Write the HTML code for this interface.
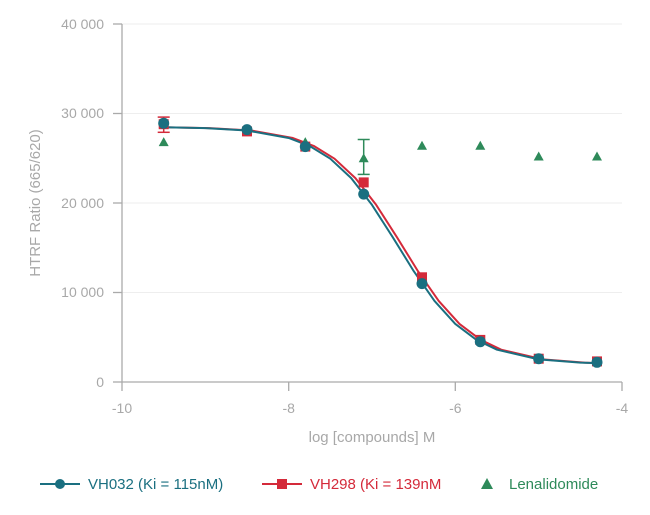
<!DOCTYPE html>
<html><head><meta charset="utf-8"><style>
body{margin:0;background:#fff;}
svg text{font-family:"Liberation Sans",sans-serif;}
</style></head><body>
<svg width="650" height="510" viewBox="0 0 650 510" xmlns="http://www.w3.org/2000/svg">
<g stroke="#eeeeee" stroke-width="1">
<line x1="122" y1="24" x2="622" y2="24"/><line x1="122" y1="113.5" x2="622" y2="113.5"/>
<line x1="122" y1="203" x2="622" y2="203"/><line x1="122" y1="292.5" x2="622" y2="292.5"/>
</g>
<g stroke="#aaaaaa" stroke-width="1.3" fill="none">
<line x1="122" y1="24" x2="122" y2="382"/><line x1="122" y1="382" x2="622" y2="382"/>
<line x1="113" y1="24" x2="122" y2="24"/><line x1="113" y1="113.5" x2="122" y2="113.5"/>
<line x1="113" y1="203" x2="122" y2="203"/><line x1="113" y1="292.5" x2="122" y2="292.5"/>
<line x1="113" y1="382" x2="122" y2="382"/>
<line x1="122" y1="382" x2="122" y2="391"/><line x1="288.7" y1="382" x2="288.7" y2="391"/>
<line x1="455.3" y1="382" x2="455.3" y2="391"/><line x1="622" y1="382" x2="622" y2="391"/>
</g>
<g fill="#a8a8a8" font-size="14" text-anchor="end">
<text x="104" y="29">40 000</text><text x="104" y="118">30 000</text>
<text x="104" y="208">20 000</text><text x="104" y="297">10 000</text><text x="104" y="387">0</text>
</g>
<g fill="#a8a8a8" font-size="14" text-anchor="middle">
<text x="122" y="413">-10</text><text x="288.7" y="413">-8</text>
<text x="455.3" y="413">-6</text><text x="622" y="413">-4</text>
<text x="372" y="442" font-size="15">log [compounds] M</text>
<text transform="translate(40,203) rotate(-90)" font-size="15">HTRF Ratio (665/620)</text>
</g>
<g stroke-width="1.5">
<g stroke="#d42a3a"><line x1="163.7" y1="117.1" x2="163.7" y2="132.3"/><line x1="157.7" y1="117.1" x2="169.7" y2="117.1"/><line x1="157.7" y1="132.3" x2="169.7" y2="132.3"/></g>
<g stroke="#2e8a5a"><line x1="363.7" y1="139.5" x2="363.7" y2="174.4"/><line x1="357.7" y1="139.5" x2="369.7" y2="139.5"/><line x1="357.7" y1="174.4" x2="369.7" y2="174.4"/></g>
</g>
<polyline transform="translate(4.2,0)" fill="none" stroke="#d42a3a" stroke-width="2" stroke-linejoin="round" points="159.5,127.3 205.3,128.1 247.0,130.5 288.7,138.0 309.5,145.9 330.3,158.7 351.2,178.1 372.0,204.9 392.8,237.3 413.7,271.1 434.5,300.9 455.3,323.9 476.2,339.7 497.0,349.7 538.7,359.4 580.3,362.6 592.8,363.1"/>
<polyline fill="none" stroke="#1a6f80" stroke-width="2" stroke-linejoin="round" points="163.7,127.3 205.3,128.1 247.0,130.5 288.7,138.0 309.5,145.9 330.3,158.7 351.2,178.1 372.0,204.9 392.8,237.3 413.7,271.1 434.5,300.9 455.3,323.9 476.2,339.7 497.0,349.7 538.7,359.4 580.3,362.6 597.0,363.1"/>
<g fill="#2e8a5a">
<polygon points="163.7,137.1 168.7,146.1 158.7,146.1"/>
<polygon points="305.3,137.1 310.3,146.1 300.3,146.1"/>
<polygon points="363.7,153.3 368.7,162.3 358.7,162.3"/>
<polygon points="422,140.7 427,149.7 417,149.7"/>
<polygon points="480.3,140.7 485.3,149.7 475.3,149.7"/>
<polygon points="538.7,151.5 543.7,160.5 533.7,160.5"/>
<polygon points="597,151.5 602,160.5 592,160.5"/>
</g>
<g fill="#d42a3a">
<rect x="158.7" y="119.2" width="10" height="10"/><rect x="242" y="126.4" width="10" height="10"/>
<rect x="300.3" y="141.6" width="10" height="10"/><rect x="358.7" y="177.4" width="10" height="10"/>
<rect x="417" y="272.3" width="10" height="10"/><rect x="475.3" y="334.9" width="10" height="10"/>
<rect x="533.7" y="353.7" width="10" height="10"/><rect x="592" y="356.4" width="10" height="10"/>
</g>
<g fill="#1a6f80">
<circle cx="163.7" cy="123.3" r="5.5"/><circle cx="247" cy="129.6" r="5.5"/>
<circle cx="305.3" cy="146.6" r="5.5"/><circle cx="363.7" cy="194.1" r="5.5"/>
<circle cx="422" cy="283.6" r="5.5"/><circle cx="480.3" cy="341.7" r="5.5"/>
<circle cx="538.7" cy="358.7" r="5.5"/><circle cx="597" cy="362.3" r="5.5"/>
</g>
<g font-size="15">
<line x1="40" y1="484" x2="80" y2="484" stroke="#1a6f80" stroke-width="2"/>
<circle cx="60" cy="484" r="5" fill="#1a6f80"/>
<text x="88" y="489" fill="#1a6f80">VH032 (Ki = 115nM)</text>
<line x1="262" y1="484" x2="302" y2="484" stroke="#d42a3a" stroke-width="2"/>
<rect x="277" y="479" width="10" height="10" fill="#d42a3a"/>
<text x="310" y="489" fill="#d42a3a">VH298 (Ki = 139nM</text>
<polygon points="487,478 493,489 481,489" fill="#2e8a5a"/>
<text x="509" y="489" fill="#2e8a5a">Lenalidomide</text>
</g>
</svg>
</body></html>
